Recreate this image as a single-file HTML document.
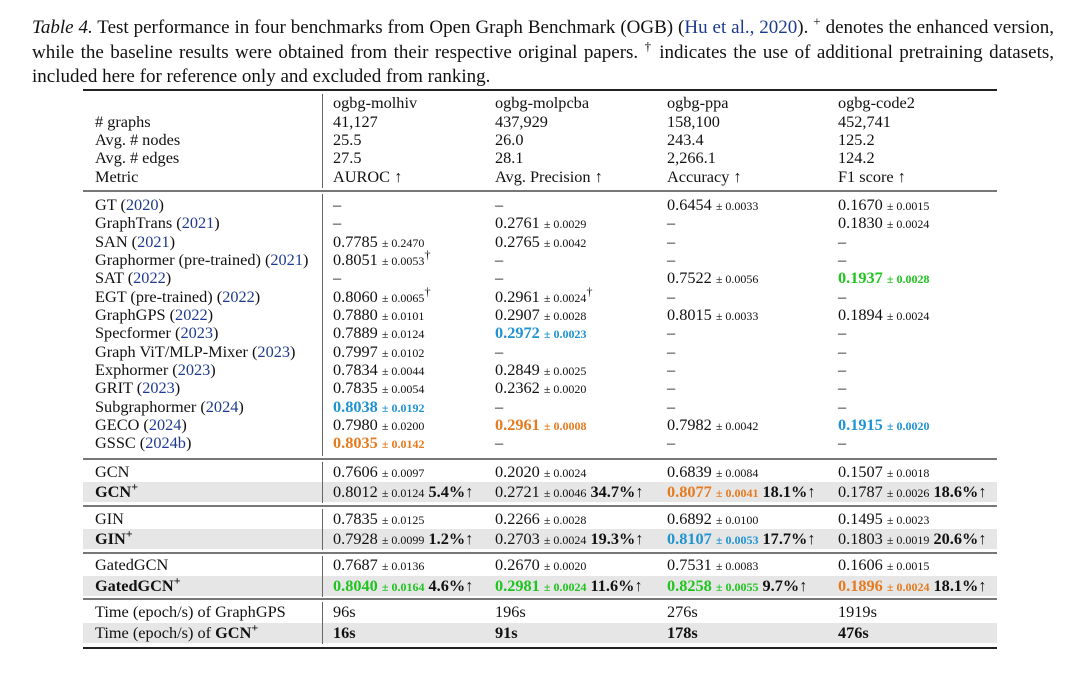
<!DOCTYPE html>
<html><head><meta charset="utf-8"><style>
body{margin:0;width:1080px;height:673px;background:#fff;position:relative;overflow:hidden;font-family:"Liberation Serif",serif;color:#111}
.cap{position:absolute;left:32px;width:1022px;font-size:19px;line-height:24.5px;top:16px;text-align:justify;text-align-last:left}
.r{position:absolute;height:20px;line-height:20px;font-size:16.3px;white-space:nowrap;left:0;width:1080px}
.r span.c{position:absolute}
.l{left:95px}.a{left:333px}.b{left:495px}.p{left:667px}.d{left:838px}
.s{font-size:12px}
.bl{color:#1f93d1}.or{color:#e67a1e}.gr{color:#1fc41f}
.nv{color:#1d3a8f}
b{font-weight:bold}
.hl{position:absolute;left:83px;width:914px;background:#777}
.g{position:absolute;left:83px;width:914px;background:#e6e6e6}
.vl{position:absolute;left:322px;width:1px;background:#666}
sup{font-size:12px;line-height:0}
</style></head><body>
<div class="cap"><i>Table 4.</i> Test performance in four benchmarks from Open Graph Benchmark (OGB) (<span class="nv">Hu et al., 2020</span>). <sup style="font-size:13px">+</sup> denotes the enhanced version, while the baseline results were obtained from their respective original papers. <sup style="font-size:13px">†</sup> indicates the use of additional pretraining datasets, included here for reference only and excluded from ranking.</div>

<div class="hl" style="top:89px;height:2px;background:#222"></div>
<div class="hl" style="top:190px;height:2px"></div>
<div class="hl" style="top:458px;height:2px"></div>
<div class="hl" style="top:505px;height:2px"></div>
<div class="hl" style="top:552px;height:2px"></div>
<div class="hl" style="top:598px;height:2px"></div>
<div class="hl" style="top:647px;height:2px;background:#222"></div>
<div class="g" style="top:482px;height:20px"></div>
<div class="g" style="top:529px;height:20px"></div>
<div class="g" style="top:576px;height:20px"></div>
<div class="g" style="top:623px;height:20px"></div>
<div class="vl" style="top:94px;height:94px"></div>
<div class="vl" style="top:194px;height:262px"></div>
<div class="vl" style="top:462px;height:41px"></div>
<div class="vl" style="top:509px;height:41px"></div>
<div class="vl" style="top:556px;height:41px"></div>
<div class="vl" style="top:602px;height:42px"></div>

<div class="r" style="top:93px"><span class="c a">ogbg-molhiv</span><span class="c b">ogbg-molpcba</span><span class="c p">ogbg-ppa</span><span class="c d">ogbg-code2</span></div>
<div class="r" style="top:112px"><span class="c l"># graphs</span><span class="c a">41,127</span><span class="c b">437,929</span><span class="c p">158,100</span><span class="c d">452,741</span></div>
<div class="r" style="top:130px"><span class="c l">Avg. # nodes</span><span class="c a">25.5</span><span class="c b">26.0</span><span class="c p">243.4</span><span class="c d">125.2</span></div>
<div class="r" style="top:148px"><span class="c l">Avg. # edges</span><span class="c a">27.5</span><span class="c b">28.1</span><span class="c p">2,266.1</span><span class="c d">124.2</span></div>
<div class="r" style="top:167px"><span class="c l">Metric</span><span class="c a">AUROC ↑</span><span class="c b">Avg. Precision ↑</span><span class="c p">Accuracy ↑</span><span class="c d">F1 score ↑</span></div>

<div class="r" style="top:195px"><span class="c l">GT (<span class="nv">2020</span>)</span><span class="c a">–</span><span class="c b">–</span><span class="c p">0.6454 <span class="s">± 0.0033</span></span><span class="c d">0.1670 <span class="s">± 0.0015</span></span></div>
<div class="r" style="top:213px"><span class="c l">GraphTrans (<span class="nv">2021</span>)</span><span class="c a">–</span><span class="c b">0.2761 <span class="s">± 0.0029</span></span><span class="c p">–</span><span class="c d">0.1830 <span class="s">± 0.0024</span></span></div>
<div class="r" style="top:232px"><span class="c l">SAN (<span class="nv">2021</span>)</span><span class="c a">0.7785 <span class="s">± 0.2470</span></span><span class="c b">0.2765 <span class="s">± 0.0042</span></span><span class="c p">–</span><span class="c d">–</span></div>
<div class="r" style="top:250px"><span class="c l">Graphormer (pre-trained) (<span class="nv">2021</span>)</span><span class="c a">0.8051 <span class="s">± 0.0053</span><sup>†</sup></span><span class="c b">–</span><span class="c p">–</span><span class="c d">–</span></div>
<div class="r" style="top:268px"><span class="c l">SAT (<span class="nv">2022</span>)</span><span class="c a">–</span><span class="c b">–</span><span class="c p">0.7522 <span class="s">± 0.0056</span></span><span class="c d gr"><b>0.1937</b> <b class="s">± 0.0028</b></span></div>
<div class="r" style="top:287px"><span class="c l">EGT (pre-trained) (<span class="nv">2022</span>)</span><span class="c a">0.8060 <span class="s">± 0.0065</span><sup>†</sup></span><span class="c b">0.2961 <span class="s">± 0.0024</span><sup>†</sup></span><span class="c p">–</span><span class="c d">–</span></div>
<div class="r" style="top:305px"><span class="c l">GraphGPS (<span class="nv">2022</span>)</span><span class="c a">0.7880 <span class="s">± 0.0101</span></span><span class="c b">0.2907 <span class="s">± 0.0028</span></span><span class="c p">0.8015 <span class="s">± 0.0033</span></span><span class="c d">0.1894 <span class="s">± 0.0024</span></span></div>
<div class="r" style="top:323px"><span class="c l">Specformer (<span class="nv">2023</span>)</span><span class="c a">0.7889 <span class="s">± 0.0124</span></span><span class="c b bl"><b>0.2972</b> <b class="s">± 0.0023</b></span><span class="c p">–</span><span class="c d">–</span></div>
<div class="r" style="top:342px"><span class="c l">Graph ViT/MLP-Mixer (<span class="nv">2023</span>)</span><span class="c a">0.7997 <span class="s">± 0.0102</span></span><span class="c b">–</span><span class="c p">–</span><span class="c d">–</span></div>
<div class="r" style="top:360px"><span class="c l">Exphormer (<span class="nv">2023</span>)</span><span class="c a">0.7834 <span class="s">± 0.0044</span></span><span class="c b">0.2849 <span class="s">± 0.0025</span></span><span class="c p">–</span><span class="c d">–</span></div>
<div class="r" style="top:378px"><span class="c l">GRIT (<span class="nv">2023</span>)</span><span class="c a">0.7835 <span class="s">± 0.0054</span></span><span class="c b">0.2362 <span class="s">± 0.0020</span></span><span class="c p">–</span><span class="c d">–</span></div>
<div class="r" style="top:397px"><span class="c l">Subgraphormer (<span class="nv">2024</span>)</span><span class="c a bl"><b>0.8038</b> <b class="s">± 0.0192</b></span><span class="c b">–</span><span class="c p">–</span><span class="c d">–</span></div>
<div class="r" style="top:415px"><span class="c l">GECO (<span class="nv">2024</span>)</span><span class="c a">0.7980 <span class="s">± 0.0200</span></span><span class="c b or"><b>0.2961</b> <b class="s">± 0.0008</b></span><span class="c p">0.7982 <span class="s">± 0.0042</span></span><span class="c d bl"><b>0.1915</b> <b class="s">± 0.0020</b></span></div>
<div class="r" style="top:433px"><span class="c l">GSSC (<span class="nv">2024b</span>)</span><span class="c a or"><b>0.8035</b> <b class="s">± 0.0142</b></span><span class="c b">–</span><span class="c p">–</span><span class="c d">–</span></div>

<div class="r" style="top:462px"><span class="c l">GCN</span><span class="c a">0.7606 <span class="s">± 0.0097</span></span><span class="c b">0.2020 <span class="s">± 0.0024</span></span><span class="c p">0.6839 <span class="s">± 0.0084</span></span><span class="c d">0.1507 <span class="s">± 0.0018</span></span></div>
<div class="r" style="top:482px"><span class="c l"><b>GCN<sup>+</sup></b></span><span class="c a">0.8012 <span class="s">± 0.0124</span> <b>5.4%↑</b></span><span class="c b">0.2721 <span class="s">± 0.0046</span> <b>34.7%↑</b></span><span class="c p"><span class="or"><b>0.8077</b> <b class="s">± 0.0041</b></span> <b>18.1%↑</b></span><span class="c d">0.1787 <span class="s">± 0.0026</span> <b>18.6%↑</b></span></div>
<div class="r" style="top:509px"><span class="c l">GIN</span><span class="c a">0.7835 <span class="s">± 0.0125</span></span><span class="c b">0.2266 <span class="s">± 0.0028</span></span><span class="c p">0.6892 <span class="s">± 0.0100</span></span><span class="c d">0.1495 <span class="s">± 0.0023</span></span></div>
<div class="r" style="top:529px"><span class="c l"><b>GIN<sup>+</sup></b></span><span class="c a">0.7928 <span class="s">± 0.0099</span> <b>1.2%↑</b></span><span class="c b">0.2703 <span class="s">± 0.0024</span> <b>19.3%↑</b></span><span class="c p"><span class="bl"><b>0.8107</b> <b class="s">± 0.0053</b></span> <b>17.7%↑</b></span><span class="c d">0.1803 <span class="s">± 0.0019</span> <b>20.6%↑</b></span></div>
<div class="r" style="top:555px"><span class="c l">GatedGCN</span><span class="c a">0.7687 <span class="s">± 0.0136</span></span><span class="c b">0.2670 <span class="s">± 0.0020</span></span><span class="c p">0.7531 <span class="s">± 0.0083</span></span><span class="c d">0.1606 <span class="s">± 0.0015</span></span></div>
<div class="r" style="top:576px"><span class="c l"><b>GatedGCN<sup>+</sup></b></span><span class="c a"><span class="gr"><b>0.8040</b> <b class="s">± 0.0164</b></span> <b>4.6%↑</b></span><span class="c b"><span class="gr"><b>0.2981</b> <b class="s">± 0.0024</b></span> <b>11.6%↑</b></span><span class="c p"><span class="gr"><b>0.8258</b> <b class="s">± 0.0055</b></span> <b>9.7%↑</b></span><span class="c d"><span class="or"><b>0.1896</b> <b class="s">± 0.0024</b></span> <b>18.1%↑</b></span></div>
<div class="r" style="top:602px"><span class="c l">Time (epoch/s) of GraphGPS</span><span class="c a">96s</span><span class="c b">196s</span><span class="c p">276s</span><span class="c d">1919s</span></div>
<div class="r" style="top:623px"><span class="c l">Time (epoch/s) of <b>GCN<sup>+</sup></b></span><span class="c a"><b>16s</b></span><span class="c b"><b>91s</b></span><span class="c p"><b>178s</b></span><span class="c d"><b>476s</b></span></div>
</body></html>
